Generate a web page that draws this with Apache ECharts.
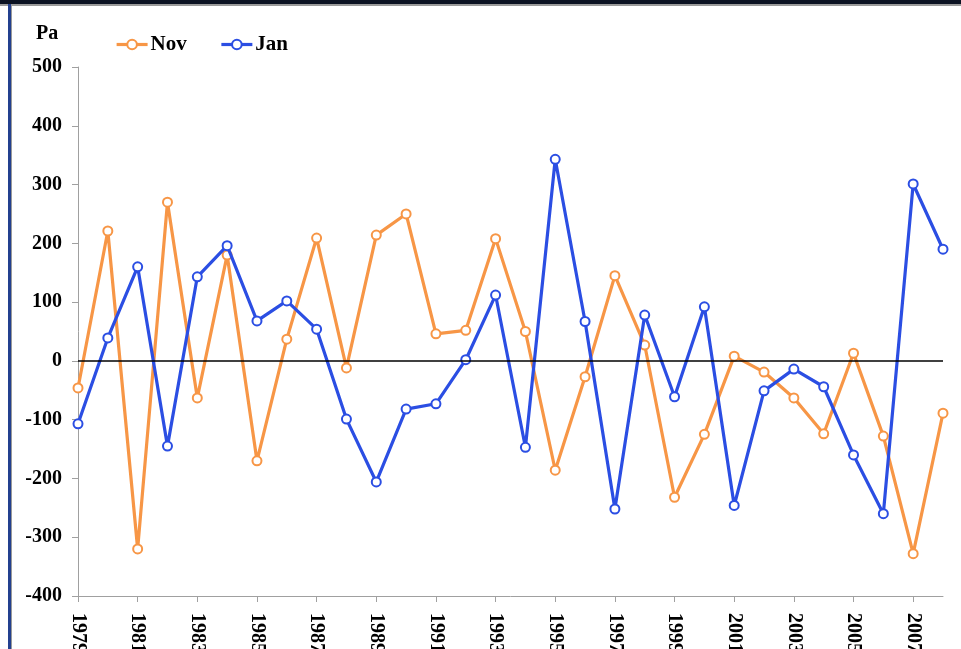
<!DOCTYPE html>
<html>
<head>
<meta charset="utf-8">
<script src="https://cdn.jsdelivr.net/npm/echarts@6/dist/echarts.min.js"></script>
<style>
  html, body { margin: 0; padding: 0; background: #ffffff; }
  #chart { width: 961px; height: 649px; }
</style>
</head>
<body>
<div id="chart"></div>
<script>
// years on the category axis
var years = [];
for (var y = 1979; y <= 2008; y++) years.push(String(y));

// values, Pa
var nov = [-46, 221, -320, 270, -63, 180, -170, 37, 209, -12,
           214, 250, 46, 52, 208, 50, -186, -27, 145, 27,
           -232, -125, 8, -19, -63, -124, 13, -128, -328, -89];
var jan = [-107, 39, 160, -145, 143, 196, 68, 102, 54, -99,
           -206, -82, -73, 2, 112, -147, 343, 67, -252, 78,
           -61, 92, -246, -51, -14, -44, -160, -260, 301, 190];

var ORANGE = '#f79646';
var BLUE = '#2b4ee3';
var FONT = '"Liberation Serif", "Times New Roman", serif';

var chart = echarts.init(document.getElementById('chart'));

function lineSeries(name, data, color) {
    return {
        name: name,
        type: 'line',
        data: data,
        symbol: 'emptyCircle',
        symbolSize: 9,
        lineStyle: { color: color, width: 3.2 },
        itemStyle: { color: color, borderColor: color, borderWidth: 2.6 },
        emphasis: { disabled: true },
        animation: false
    };
}

var novSeries = lineSeries('Nov', nov, ORANGE);
novSeries.markLine = {
    silent: true,
    symbol: 'none',
    label: { show: false },
    lineStyle: { color: '#000000', width: 1.5, type: 'solid' },
    data: [{ yAxis: 0 }]
};
novSeries.z = 2;
var janSeries = lineSeries('Jan', jan, BLUE);
janSeries.z = 3;

var option = {
    backgroundColor: '#ffffff',
    animation: false,
    grid: { left: 78, right: 18, top: 67, bottom: 53, containLabel: false, outerBoundsMode: 'none' },
    legend: {
        left: 110,
        top: 29,
        itemWidth: 31,
        itemHeight: 12,
        itemGap: 33,
        lineStyle: { width: 3.2 },
        textStyle: { fontFamily: FONT, fontWeight: 'bold', fontSize: 21, color: '#000', padding: [0, 0, 0, -2] },
        data: ['Nov', 'Jan']
    },
    graphic: [
        { type: 'rect', shape: { x: 0, y: 0, width: 961, height: 4 }, style: { fill: '#0b1222' } },
        { type: 'rect', shape: { x: 0, y: 4, width: 961, height: 2 }, style: { fill: '#9a9a9a' } },
        { type: 'rect', shape: { x: 8, y: 4, width: 3, height: 645 }, style: { fill: '#23408f' } },
        { type: 'rect', shape: { x: 11, y: 4, width: 1, height: 645 }, style: { fill: '#9a9a9a' } },
        {
            type: 'text', left: 36, top: 24,
            style: { text: 'Pa', font: 'bold 20px ' + FONT, fill: '#000' }
        }
    ],
    xAxis: {
        type: 'category',
        data: years,
        boundaryGap: false,
        axisLine: { onZero: false, lineStyle: { color: '#a0a0a0', width: 1 } },
        axisTick: { show: true, interval: 1, length: 6, lineStyle: { color: '#a0a0a0' } },
        axisLabel: {
            interval: 1,
            rotate: -90,
            margin: 17,
            fontFamily: FONT,
            fontWeight: 'bold',
            fontSize: 20,
            color: '#000'
        },
        splitLine: { show: false }
    },
    yAxis: {
        type: 'value',
        min: -400,
        max: 500,
        interval: 100,
        axisLine: { show: true, lineStyle: { color: '#a0a0a0', width: 1 } },
        axisTick: { show: true, length: 6, lineStyle: { color: '#a0a0a0' } },
        axisLabel: {
            margin: 16,
            fontFamily: FONT,
            fontWeight: 'bold',
            fontSize: 20,
            color: '#000'
        },
        splitLine: { show: false }
    },
    series: [novSeries, janSeries]
};

chart.setOption(option);
</script>
</body>
</html>
